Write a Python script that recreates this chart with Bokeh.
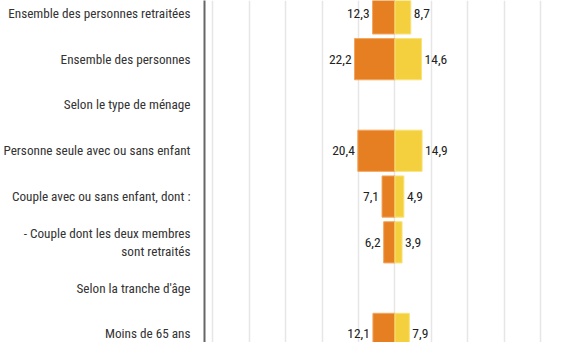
from bokeh.plotting import figure
from bokeh.models import ColumnDataSource, Range1d, FixedTicker
from bokeh.core.properties import value
from bokeh.embed import file_html
from bokeh.resources import INLINE

categories = [
    "Ensemble des personnes retraitées",
    "Ensemble des personnes",
    "Selon le type de ménage",
    "Personne seule avec ou sans enfant",
    "Couple avec ou sans enfant, dont :",
    "- Couple dont les deux membres\nsont retraités",
    "Selon la tranche d'âge",
    "Moins de 65 ans",
]
orange_vals = [12.3, 22.2, None, 20.4, 7.1, 6.2, None, 12.1]
yellow_vals = [8.7, 14.6, None, 14.9, 4.9, 3.9, None, 7.9]
grid_ticks = [-100, -80, -60, -40, -20, 0, 20, 40, 60, 80]

FONT = "'Liberation Sans Narrow', 'Roboto Condensed', 'Arial Narrow', sans-serif"
ORANGE = "#E67E22"
YELLOW = "#F4D03F"

rows = list(range(len(categories)))
nan = float("nan")

def fmt(v):
    return "" if v is None else f"{v:.1f}".replace(".", ",")

src = ColumnDataSource(dict(
    y=rows,
    o_left=[nan if v is None else -v for v in orange_vals],
    y_right=[nan if v is None else v for v in yellow_vals],
    zero=[0] * len(rows),
    o_lab=[fmt(v) for v in orange_vals],
    y_lab=[fmt(v) for v in yellow_vals],
    o_x=[0 if v is None else -v for v in orange_vals],
    y_x=[0 if v is None else v for v in yellow_vals],
))

p = figure(width=572, height=342, output_backend="svg", toolbar_location=None,
           x_range=Range1d(-104.6, 97.5), y_range=Range1d(7.188, -0.282),
           min_border_left=196, min_border_right=0, min_border_top=0, min_border_bottom=0)
p.outline_line_color = None
p.background_fill_color = "white"
p.border_fill_color = "white"

p.hbar(y="y", left="o_left", right="zero", height=0.9, source=src,
       fill_color=ORANGE, line_color="#F2A65E", line_width=1)
p.hbar(y="y", left="zero", right="y_right", height=0.9, source=src,
       fill_color=YELLOW, line_color="#F8E27A", line_width=1)

p.text(x="o_x", y="y", text="o_lab", source=src, x_offset=-3,
       text_align="right", text_baseline="middle", text_font=value(FONT),
       text_font_size="13.5px", text_color="#222222")
p.text(x="y_x", y="y", text="y_lab", source=src, x_offset=3,
       text_align="left", text_baseline="middle", text_font=value(FONT),
       text_font_size="13.5px", text_color="#222222")

p.xaxis.visible = False
p.xgrid.ticker = FixedTicker(ticks=grid_ticks)
p.xgrid.grid_line_color = "#e6e6e6"
p.xgrid.grid_line_width = 1.5
p.ygrid.visible = False

ya = p.yaxis[0]
ya.ticker = FixedTicker(ticks=rows)
ya.major_label_overrides = {i: c for i, c in zip(rows, categories)}
ya.major_label_text_font = FONT
ya.major_label_text_font_size = "13.2px"
ya.major_label_text_color = "#333333"
ya.major_label_standoff = 8
ya.major_tick_line_color = None
ya.minor_tick_line_color = None
ya.axis_line_color = "#666666"
ya.axis_line_width = 2

open("out.html", "w").write(file_html(p, INLINE))
